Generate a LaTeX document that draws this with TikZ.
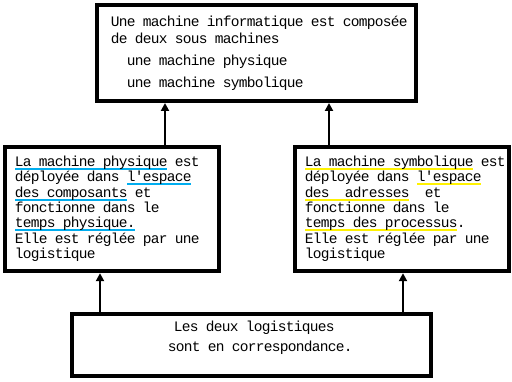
\documentclass[tikz,border=0pt]{standalone}
\usepackage{fontspec}
\newfontfamily\courierfont{Liberation Mono}
\usetikzlibrary{arrows.meta}

% every character in a cell of 8pt, | gives an empty cell
\ExplSyntaxOn
\cs_new_protected:Npn \ttcells #1
  {
    \str_map_inline:nn {#1}
      { \makebox[8pt][c]{ \str_if_eq:nnF {##1} {|} {##1} } }
  }
\ExplSyntaxOff

\newcommand{\markul}[2]{\leavevmode\setbox0=\hbox{\ttcells{#2}}\rlap{\color{#1}\rule[-3.3pt]{\wd0}{2pt}}\box0\relax}

\tikzset{
    box/.style={draw, line width=4pt, inner sep=0pt},
    boxtext/.style={anchor=base west, inner sep=0pt, align=left, font=\courierfont\fontsize{14.5pt}{15.3pt}\selectfont},
    link/.style={line width=2pt, -{Triangle[length=8pt,width=8pt]}}
}

\begin{document}
\begin{tikzpicture}[x=1pt, y=-1pt]
    \useasboundingbox (0,0) rectangle (512,382);

    % The four boxes
    \node[box, minimum width=319pt, minimum height=96pt] (topBox) at (256.5,53) {};
    \node[box, minimum width=214pt, minimum height=124.2pt] (leftBox) at (111.7,209.1) {};
    \node[box, minimum width=214pt, minimum height=124.2pt] (rightBox) at (401.7,209.1) {};
    \node[box, minimum width=359pt, minimum height=62pt] (bottomBox) at (251.5,344.7) {};

    % Texts
    \node[boxtext, text width=300pt] (topText) at (111,26.7) {\ttcells{Une machine informatique est composée}\\[1.3pt]
        \ttcells{de deux sous machines}\\[7pt]
        \ttcells{||une machine physique}\\[7pt]
        \ttcells{||une machine symbolique}};

    \node[boxtext, text width=196pt] (leftText) at (15,166.7) {\markul{cyan}{La machine physique}\ttcells{|est}\\
        \ttcells{déployée dans|}\markul{cyan}{l'espace}\\
        \markul{cyan}{des composants}\ttcells{|et}\\
        \ttcells{fonctionne dans le}\\
        \markul{cyan}{temps physique.}\\
        \ttcells{Elle est réglée par une}\\
        \ttcells{logistique}};

    \node[boxtext, text width=196pt] (rightText) at (305,166.7) {\markul{yellow}{La machine symbolique}\ttcells{|est}\\
        \ttcells{déployée dans|}\markul{yellow}{l'espace}\\
        \markul{yellow}{des||adresses}\ttcells{||et}\\
        \ttcells{fonctionne dans le}\\
        \markul{yellow}{temps des processus}\ttcells{.}\\
        \ttcells{Elle est réglée par une}\\
        \ttcells{logistique}};

    \node[boxtext, text width=250pt] (bottomText) at (168,331.7) {\hspace*{6pt}\ttcells{Les deux logistiques}\\[4.7pt]
        \ttcells{sont en correspondance.}};

    % Arrows
    \coordinate (colA) at (165,0);
    \coordinate (colB) at (329,0);
    \coordinate (colC) at (100,0);
    \coordinate (colD) at (403,0);
    \draw[link] (leftBox.north -| colA) -- (topBox.south -| colA);
    \draw[link] (rightBox.north -| colB) -- (topBox.south -| colB);
    \draw[link] (bottomBox.north -| colC) -- (leftBox.south -| colC);
    \draw[link] (bottomBox.north -| colD) -- (rightBox.south -| colD);
\end{tikzpicture}
\end{document}
